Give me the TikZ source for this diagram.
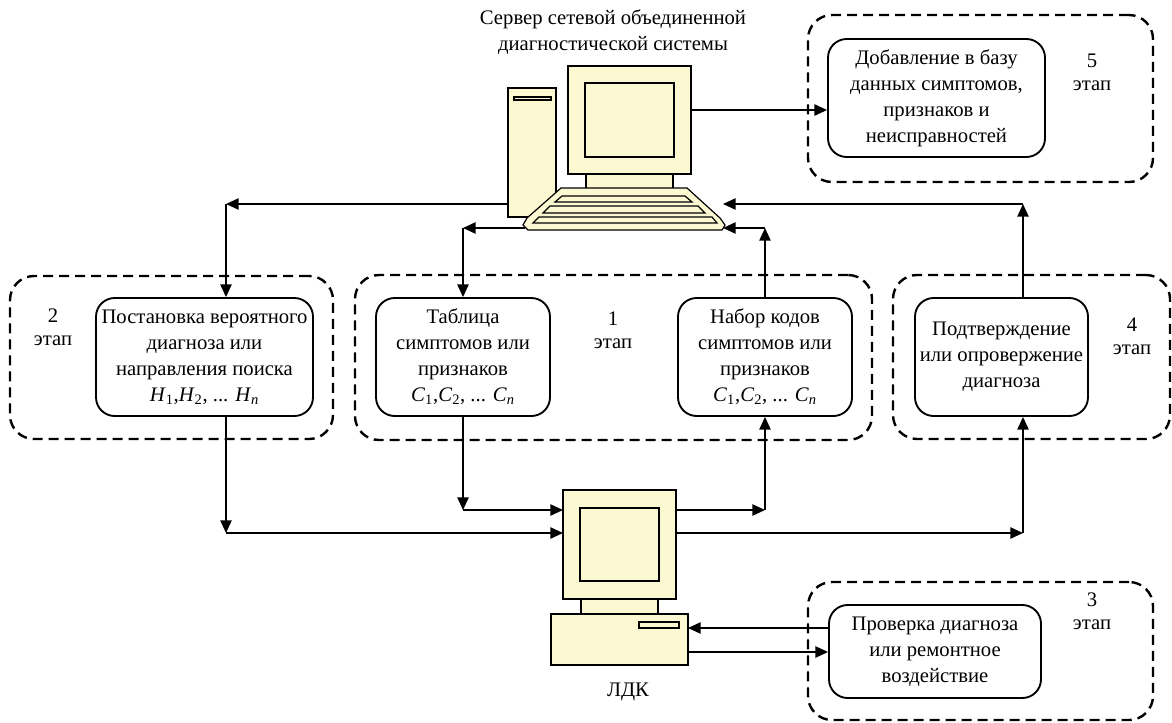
\documentclass[tikz,border=0pt]{standalone}
\usepackage{fontspec}
\setmainfont{Liberation Serif}
\usetikzlibrary{arrows.meta}
\definecolor{pcyellow}{RGB}{252,248,210}

\begin{document}
\begin{tikzpicture}[x = 0.75pt, y = -0.75pt,
    font = \fontsize{15.5}{19.5}\selectfont,
    blk/.style = {draw, line width = 1.4pt, rounded corners = 14pt,
      align = center, inner sep = 1pt},
    stagebox/.style = {draw, line width = 1.8pt, rounded corners = 18pt,
      dash pattern = on 7.5pt off 4.5pt},
    stagelbl/.style = {align = center, font = \fontsize{15.5}{17}\selectfont},
    arr/.style = {-{Triangle[length = 9.5pt, width = 8.5pt]}, line width = 1.1pt},
    pc/.style = {draw, fill = pcyellow, line width = 0.9pt}]
  \useasboundingbox (0, 0) rectangle (1172, 722);

  % server
  \node[align = center] (srvlbl) at (613, 32)
    {Сервер сетевой объединенной\\диагностической системы};
  \draw[pc] (508, 88) rectangle (556, 217);
  \draw[pc] (514, 97) rectangle (551, 100);
  \draw[pc] (568, 66) rectangle (691, 174);
  \draw[pc] (585, 83) rectangle (674, 157);
  \draw[pc] (586, 174) rectangle (673, 190);
  \draw[pc] (561, 188) -- (687, 188) -- (720, 218) -- (725, 225)
    -- (722, 230) -- (528, 230) -- (523, 225) -- (527, 218) -- cycle;
  \draw[pc] (562, 196) -- (685, 196) -- (692, 202) -- (555, 202) -- cycle;
  \draw[pc] (550, 206) -- (698, 206) -- (705, 213) -- (543, 213) -- cycle;
  \draw[pc] (539, 217) -- (712, 217) -- (717, 223) -- (533, 223) -- cycle;
  \coordinate (monout) at (691, 110);
  \coordinate (twout) at (508, 204);
  \coordinate (kbl) at (525, 228);
  \coordinate (kbr1) at (723, 204);
  \coordinate (kbr2) at (723, 228);

  % local diagnostic unit
  \draw[pc] (563, 490) rectangle (676, 599);
  \draw[pc] (580, 508) rectangle (659, 581);
  \draw[pc] (581, 599) rectangle (658, 614);
  \draw[pc] (551, 614) rectangle (688, 665);
  \draw[pc] (639, 622) rectangle (679, 628);
  \node (ldk) at (628, 692) {ЛДК};
  \coordinate (li1) at (563, 510);
  \coordinate (li2) at (563, 533);
  \coordinate (lo1) at (676, 510);
  \coordinate (lo2) at (676, 533);
  \coordinate (bi) at (688, 628);
  \coordinate (bo) at (688, 652);

  % stages
  \node[stagebox, minimum width = 242.25pt, minimum height = 122.25pt]
    (g2) at (171.5, 357.5) {};
  \node[stagebox, minimum width = 387.75pt, minimum height = 123.75pt]
    (g1) at (613.5, 357.5) {};
  \node[stagebox, minimum width = 207.75pt, minimum height = 123pt]
    (g4) at (1031.5, 357) {};
  \node[stagebox, minimum width = 258.75pt, minimum height = 125.25pt]
    (g5) at (980.5, 98.5) {};
  \node[stagebox, minimum width = 258.75pt, minimum height = 103.5pt]
    (g3) at (980.5, 651) {};

  \node[stagelbl] (n2) at (53, 327) {2\\этап};
  \node[stagelbl] (n1) at (613, 330) {1\\этап};
  \node[stagelbl] (n4) at (1132, 336) {4\\этап};
  \node[stagelbl] (n5) at (1092, 72) {5\\этап};
  \node[stagelbl] (n3) at (1092, 611) {3\\этап};

  \node[blk, minimum width = 162.75pt, minimum height = 88.5pt]
    (hyp) at (204.5, 357)
    {Постановка вероятного\\диагноза или\\направления поиска\\
     \textit{H}\textsubscript{1},\textit{H}\textsubscript{2}, ...
     \textit{H}\textsubscript{\textit{n}}};
  \node[blk, minimum width = 130.5pt, minimum height = 88.5pt]
    (tab) at (463, 357)
    {Таблица\\симптомов или\\признаков\\
     \textit{C}\textsubscript{1},\textit{C}\textsubscript{2}, ...
     \textit{C}\textsubscript{\textit{n}}};
  \node[blk, minimum width = 130.5pt, minimum height = 88.5pt]
    (codes) at (765, 357)
    {Набор кодов\\симптомов или\\признаков\\
     \textit{C}\textsubscript{1},\textit{C}\textsubscript{2}, ...
     \textit{C}\textsubscript{\textit{n}}};
  \node[blk, minimum width = 129.75pt, minimum height = 88.5pt]
    (conf) at (1001.5, 357)
    {Подтверждение\\или опровержение\\диагноза};
  \node[blk, minimum width = 162.75pt, minimum height = 88.5pt]
    (base) at (936.5, 98)
    {Добавление в базу\\данных симптомов,\\признаков и\\неисправностей};
  \node[blk, minimum width = 159pt, minimum height = 69.75pt]
    (check) at (935, 651.5)
    {Проверка диагноза\\или ремонтное\\воздействие};

  \coordinate (v2) at (226, 0);
  \coordinate (v4) at (1023, 0);

  \draw[arr] (monout) -- (monout -| base.west);

  \draw[arr] (twout) -- (v2 |- twout);
  \draw[arr] (v2 |- twout) -- (v2 |- hyp.north);
  \draw[arr] (v2 |- hyp.south) -- (v2 |- li2);
  \draw[arr] (v2 |- li2) -- (li2);

  \draw[arr] (kbl) -- (kbl -| tab.north);
  \draw[arr] (kbl -| tab.north) -- (tab.north);
  \draw[arr] (tab.south) -- (tab.south |- li1);
  \draw[arr] (tab.south |- li1) -- (li1);

  \draw[arr] (lo1) -- (lo1 -| codes.south);
  \draw[arr] (lo1 -| codes.south) -- (codes.south);
  \draw[arr] (codes.north) -- (codes.north |- kbr2);
  \draw[arr] (codes.north |- kbr2) -- (kbr2);

  \draw[arr] (lo2) -- (v4 |- lo2);
  \draw[arr] (v4 |- lo2) -- (v4 |- conf.south);
  \draw[arr] (v4 |- conf.north) -- (v4 |- kbr1);
  \draw[arr] (v4 |- kbr1) -- (kbr1);

  \draw[arr] (check.west |- bi) -- (bi);
  \draw[arr] (bo) -- (bo -| check.west);
\end{tikzpicture}
\end{document}
